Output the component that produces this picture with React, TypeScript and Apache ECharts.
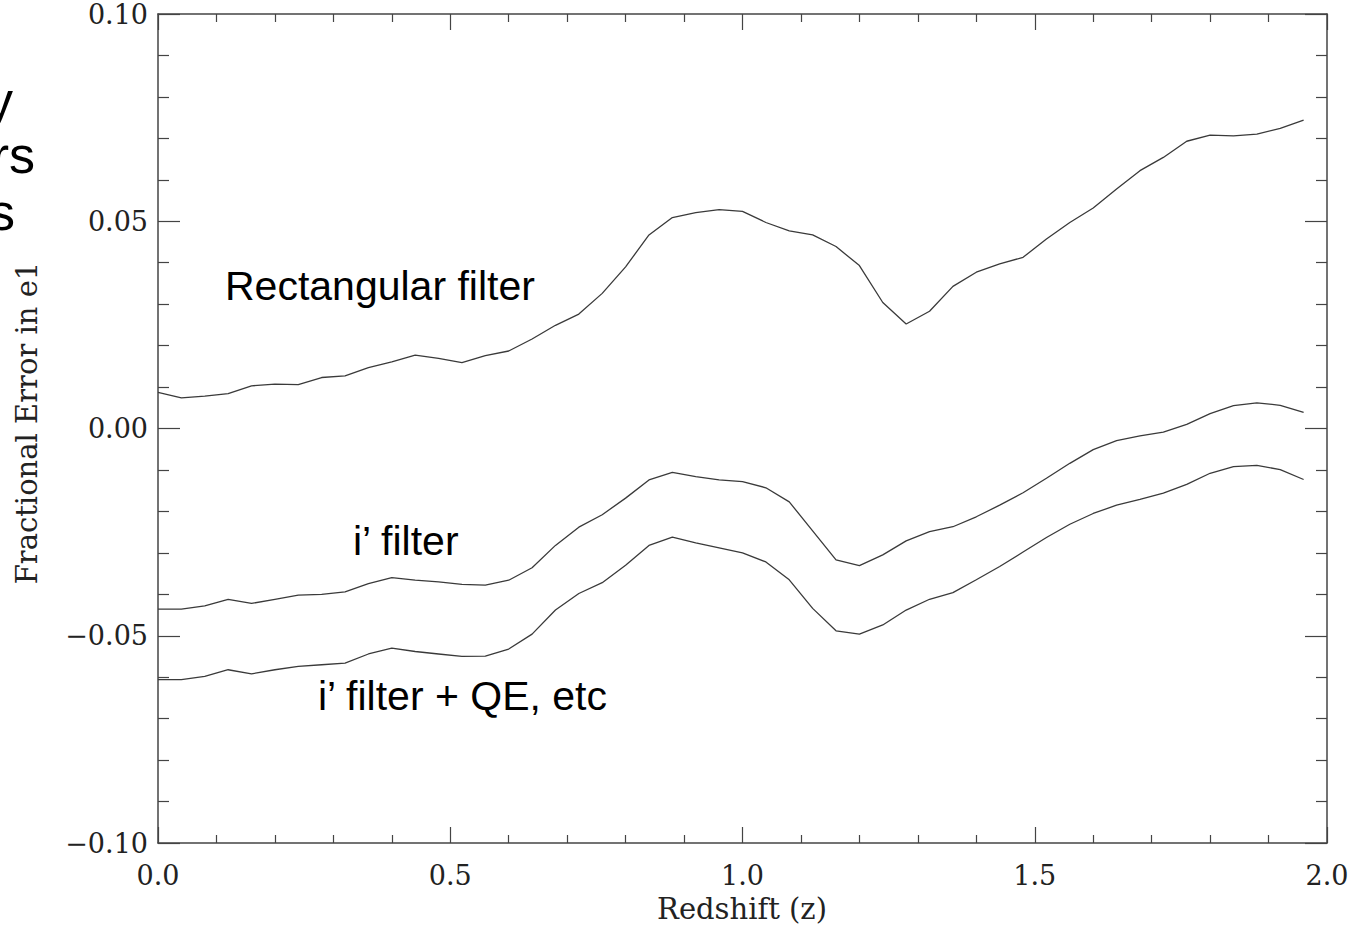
import React, { useEffect, useRef } from "react";
import * as echarts from "echarts";

const redshift = [
  0.0, 0.04, 0.08, 0.12, 0.16, 0.2, 0.24, 0.28, 0.32, 0.36,
  0.4, 0.44, 0.48, 0.52, 0.56, 0.6, 0.64, 0.68, 0.72, 0.76,
  0.8, 0.84, 0.88, 0.92, 0.96, 1.0, 1.04, 1.08, 1.12, 1.16,
  1.2, 1.24, 1.28, 1.32, 1.36, 1.4, 1.44, 1.48, 1.52, 1.56,
  1.6, 1.64, 1.68, 1.72, 1.76, 1.8, 1.84, 1.88, 1.92, 1.96,
];

const rectangularFilter = [
  0.0087, 0.0074, 0.0078, 0.0084, 0.0103, 0.0107, 0.0106, 0.0123, 0.0127, 0.0147,
  0.0161, 0.0177, 0.0169, 0.0159, 0.0176, 0.0187, 0.0216, 0.0249, 0.0276, 0.0326,
  0.039, 0.0467, 0.0509, 0.0521, 0.0528, 0.0524, 0.0497, 0.0477, 0.0467, 0.0439,
  0.0393, 0.0304, 0.0252, 0.0283, 0.0343, 0.0377, 0.0397, 0.0413, 0.0457, 0.0497,
  0.0532, 0.0578, 0.0622, 0.0654, 0.0693, 0.0708, 0.0706, 0.071, 0.0724, 0.0744,
];

const iFilter = [
  -0.0436, -0.0436, -0.0428, -0.0412, -0.0422, -0.0412, -0.0402, -0.04, -0.0394, -0.0374,
  -0.036, -0.0366, -0.037, -0.0376, -0.0378, -0.0366, -0.0336, -0.0282, -0.0238, -0.0208,
  -0.0168, -0.0124, -0.0106, -0.0116, -0.0124, -0.0128, -0.0143, -0.0177, -0.0247, -0.0317,
  -0.0331, -0.0305, -0.0271, -0.0249, -0.0237, -0.0213, -0.0185, -0.0155, -0.012, -0.0084,
  -0.0051, -0.0029, -0.0018, -0.0009, 0.001, 0.0036, 0.0055, 0.0062, 0.0056, 0.0039,
];

const iFilterQE = [
  -0.0606, -0.0606, -0.0598, -0.0582, -0.0592, -0.0582, -0.0574, -0.057, -0.0566, -0.0544,
  -0.053, -0.0538, -0.0544, -0.055, -0.0549, -0.0532, -0.0496, -0.0438, -0.0398, -0.0372,
  -0.033, -0.0282, -0.0262, -0.0276, -0.0288, -0.03, -0.0322, -0.0365, -0.0434, -0.0488,
  -0.0496, -0.0474, -0.0438, -0.0412, -0.0396, -0.0365, -0.0333, -0.0298, -0.0263, -0.0231,
  -0.0205, -0.0185, -0.0171, -0.0156, -0.0135, -0.0108, -0.0092, -0.0089, -0.0099, -0.0123,
];

const seriesNames = ["Rectangular filter", "i\u2019 filter", "i\u2019 filter + QE, etc"];
const xTitle = "Redshift (z)";
const yTitle = "Fractional Error in e1";
const clippedFragments = ["y", "rs", "s"];

const SERIF = "'DejaVu Serif', 'Liberation Serif', serif";
const SANS = "'Liberation Sans', Arial, sans-serif";
const AXIS_COLOR = "#444";
const LINE_COLOR = "#3a3a3a";

const pairs = (ys: number[]) => redshift.map((z, i) => [z, ys[i]]);

export default function App() {
  const ref = useRef<HTMLDivElement>(null);

  useEffect(() => {
    if (!ref.current) return;
    const chart = echarts.init(ref.current, null, { renderer: "svg" });

    const axisLine = { show: true, onZero: false, lineStyle: { color: AXIS_COLOR, width: 1.5 } };

    const xBase = {
      type: "value" as const,
      min: 0,
      max: 2,
      interval: 0.5,
      splitLine: { show: false },
      axisLine,
      axisTick: { show: true, inside: true, length: 16, lineStyle: { color: AXIS_COLOR, width: 1.2 } },
      minorTick: { show: true, splitNumber: 5, length: 8, lineStyle: { color: AXIS_COLOR, width: 1.2 } },
    };
    const yBase = {
      type: "value" as const,
      min: -0.1,
      max: 0.1,
      interval: 0.05,
      splitLine: { show: false },
      axisLine,
      axisTick: { show: true, inside: true, length: 22, lineStyle: { color: AXIS_COLOR, width: 1.2 } },
      minorTick: { show: true, splitNumber: 5, length: 11, lineStyle: { color: AXIS_COLOR, width: 1.2 } },
    };

    const lineSeries = (name: string, ys: number[]) => ({
      name,
      type: "line" as const,
      data: pairs(ys),
      showSymbol: false,
      symbol: "none",
      smooth: false,
      lineStyle: { color: LINE_COLOR, width: 1.3 },
      itemStyle: { color: LINE_COLOR },
      xAxisIndex: 0,
      yAxisIndex: 0,
      silent: true,
    });

    const text = (
      t: string,
      x: number,
      y: number,
      fontFamily: string,
      fontSize: number,
      align: string,
      rotation = 0,
      fill = "#000"
    ) => ({
      type: "text",
      x,
      y,
      rotation,
      style: { text: t, fontFamily, fontSize, fill, align, verticalAlign: "middle" },
    });

    chart.setOption({
      animation: false,
      backgroundColor: "#ffffff",
      grid: { left: 158, right: 33, top: 14, bottom: 84, containLabel: false },
      xAxis: [
        {
          ...xBase,
          position: "bottom",
          axisLabel: {
            show: true,
            margin: 19,
            fontFamily: SERIF,
            fontSize: 27,
            color: "#222",
            formatter: (v: number) => v.toFixed(1),
          },
        },
        {
          ...xBase,
          position: "top",
          axisLabel: { show: false },
        },
      ],
      yAxis: [
        {
          ...yBase,
          position: "left",
          axisLabel: {
            show: true,
            margin: 10,
            fontFamily: SERIF,
            fontSize: 27,
            color: "#222",
            formatter: (v: number) => {
              const s = Math.abs(v) < 1e-9 ? "0.00" : v.toFixed(2);
              return s.replace("-", "\u2212");
            },
          },
        },
        {
          ...yBase,
          position: "right",
          axisLabel: { show: false },
        },
      ],
      series: [
        lineSeries(seriesNames[0], rectangularFilter),
        lineSeries(seriesNames[1], iFilter),
        lineSeries(seriesNames[2], iFilterQE),
      ],
      graphic: [
        text(xTitle, 742, 909, SERIF, 29, "center", 0, "#222"),
        text(yTitle, 27, 423, SERIF, 29, "center", Math.PI / 2, "#222"),
        text(seriesNames[0], 225, 286, SANS, 41, "left"),
        text(seriesNames[1], 353, 541, SANS, 41, "left"),
        text(seriesNames[2], 318, 696, SANS, 41, "left"),
        text(clippedFragments[0], 13, 100, SANS, 52, "right"),
        text(clippedFragments[1], 35, 155, SANS, 52, "right"),
        text(clippedFragments[2], 15, 212, SANS, 52, "right"),
      ],
    });

    return () => {
      chart.dispose();
    };
  }, []);

  return (
    <div
      ref={ref}
      style={{ position: "fixed", left: 0, top: 0, width: 1360, height: 927, background: "#fff" }}
    />
  );
}
